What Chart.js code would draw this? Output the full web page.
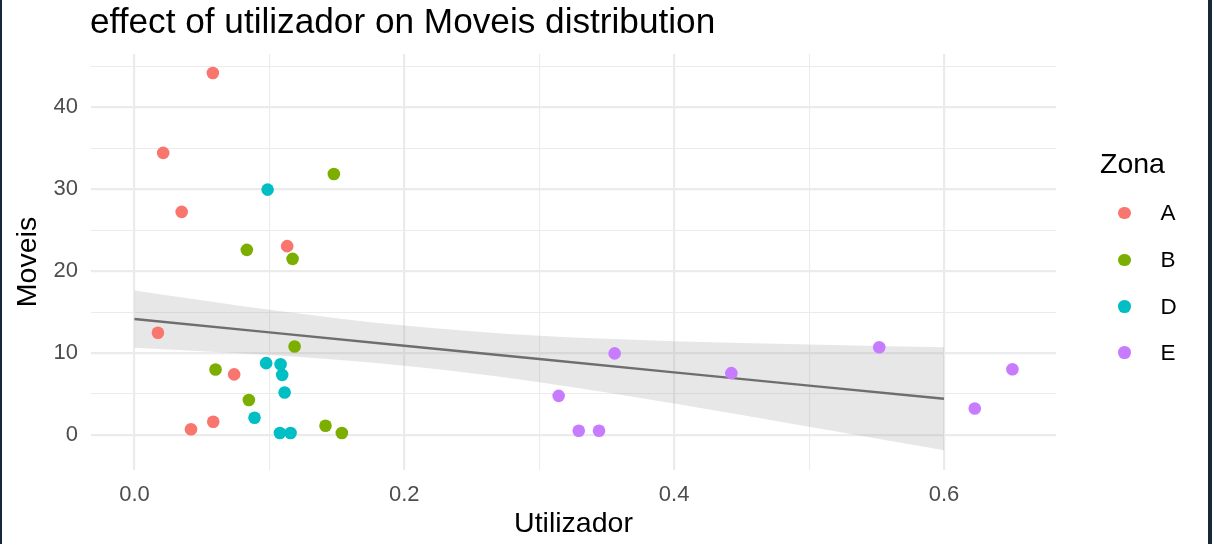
<!DOCTYPE html>
<html>
<head>
<meta charset="utf-8">
<script src="https://cdn.jsdelivr.net/npm/chart.js@4"></script>
<style>
  html, body { margin: 0; padding: 0; }
  body { width: 1212px; height: 544px; background: #16283a; position: relative; overflow: hidden; font-family: "Liberation Sans", Arial, sans-serif; }
  #sheet { position: absolute; left: 2px; top: 0; width: 1206px; height: 544px; background: #fff; }
  #wrap { position: absolute; left: 0; top: 0; width: 1212px; height: 544px; }
  #title { position: absolute; left: 90px; top: 3px; font-size: 35.2px; line-height: 35.2px; color: #000; white-space: nowrap; }
  #legendTitle { position: absolute; left: 1100px; top: 149px; font-size: 28.5px; line-height: 28.5px; color: #000; }
  .item { position: absolute; left: 1118px; height: 24px; display: flex; align-items: center; font-size: 22.5px; color: #000; }
  .dot { width: 12.6px; height: 12.6px; border-radius: 50%; margin-right: 30px; }
</style>
</head>
<body>
<div id="sheet"></div>
<div id="wrap"><canvas id="chart" width="1212" height="544"></canvas></div>
<div id="title">effect of utilizador on Moveis distribution</div>
<div id="legendTitle">Zona</div>
<div id="legend"></div>
<script>
// zones and their colours (ggplot default hues)
const zones = ['A', 'B', 'D', 'E'];
const zoneColors = ['#F8766D', '#7CAE00', '#00BFC4', '#C77CFF'];

// points, per zona
const utilA = [0.0581, 0.0213, 0.0350, 0.1132, 0.0174, 0.0739, 0.0419, 0.0584];
const moveisA = [44.18, 34.43, 27.23, 23.05, 12.48, 7.40, 0.70, 1.62];
const utilB = [0.1478, 0.0833, 0.1172, 0.1187, 0.0601, 0.0848, 0.1416, 0.1537];
const moveisB = [31.86, 22.6, 21.5, 10.8, 8.0, 4.27, 1.13, 0.24];
const utilD = [0.0987, 0.0976, 0.1083, 0.1095, 0.1113, 0.0890, 0.1078, 0.1157];
const moveisD = [29.95, 8.77, 8.64, 7.34, 5.19, 2.10, 0.24, 0.24];
const utilE = [0.3559, 0.3144, 0.3293, 0.3443, 0.4424, 0.5520, 0.6507, 0.6228];
const moveisE = [9.96, 4.78, 0.52, 0.52, 7.55, 10.71, 8.03, 3.24];

// smooth (lm) line and its band, read at a few x positions
const fitX = [0, 0.1, 0.2, 0.3, 0.4, 0.5, 0.6];
const fitY = [14.16, 12.53, 10.9, 9.28, 7.65, 6.03, 4.42];
const bandUpper = [17.65, 15.3, 13.35, 12.1, 11.45, 11.05, 10.7];
const bandLower = [10.65, 9.75, 8.45, 6.45, 3.85, 1.0, -1.87];

const xMajor = [0, 0.2, 0.4, 0.6];
const xMinor = [0.1, 0.3, 0.5];
const yMajor = [0, 10, 20, 30, 40];
const yMinor = [5, 15, 25, 35, 45];

const pointSets = [[utilA, moveisA], [utilB, moveisB], [utilD, moveisD], [utilE, moveisE]];
const toXY = (xs, ys) => xs.map((x, i) => ({ x: x, y: ys[i] }));

const datasets = pointSets.map((s, i) => ({
  label: zones[i],
  data: toXY(s[0], s[1]),
  showLine: false,
  pointRadius: 6.3,
  pointBorderWidth: 0,
  pointBackgroundColor: zoneColors[i],
  order: 0
}));
datasets.push({
  label: 'fit',
  data: toXY(fitX, fitY),
  borderColor: '#6e6e6e',
  borderWidth: 2.4,
  pointRadius: 0,
  fill: false,
  order: 1
});
datasets.push({
  label: 'upper',
  data: toXY(fitX, bandUpper),
  borderWidth: 0,
  pointRadius: 0,
  cubicInterpolationMode: 'monotone',
  backgroundColor: 'rgba(170,170,170,0.28)',
  fill: '+1',
  order: 2
});
datasets.push({
  label: 'lower',
  data: toXY(fitX, bandLower),
  borderWidth: 0,
  pointRadius: 0,
  cubicInterpolationMode: 'monotone',
  fill: false,
  order: 3
});

const tickFont = { family: '"Liberation Sans", Arial, sans-serif', size: 22 };
const titleFont = { family: '"Liberation Sans", Arial, sans-serif', size: 28.5 };

new Chart(document.getElementById('chart'), {
  type: 'line',
  data: { datasets: datasets },
  options: {
    responsive: false,
    animation: false,
    layout: { padding: { left: 0, right: 156, top: 54, bottom: 0 } },
    plugins: { legend: { display: false }, tooltip: { enabled: false } },
    scales: {
      x: {
        type: 'linear',
        min: -0.0322,
        max: 0.683,
        afterFit: s => { s.height = 74; },
        afterBuildTicks: s => { s.ticks = xMajor.concat(xMinor).map(v => ({ value: v })); },
        border: { display: false },
        grid: {
          drawTicks: false,
          color: '#ebebeb',
          lineWidth: c => xMajor.includes(c.tick.value) ? 2.2 : 1.1
        },
        ticks: {
          padding: 12,
          color: '#4d4d4d',
          font: tickFont,
          maxRotation: 0,
          autoSkip: false,
          callback: v => xMajor.includes(v) ? v.toFixed(1) : ''
        },
        title: { display: true, text: 'Utilizador', color: '#000', font: titleFont, padding: { top: 0, bottom: 3 } }
      },
      y: {
        min: -4.27,
        max: 46.5,
        afterFit: s => { s.width = 91; },
        afterBuildTicks: s => { s.ticks = yMajor.concat(yMinor).map(v => ({ value: v })); },
        border: { display: false },
        grid: {
          drawTicks: false,
          color: '#ebebeb',
          lineWidth: c => yMajor.includes(c.tick.value) ? 2.2 : 1.1
        },
        ticks: {
          padding: 13,
          color: '#4d4d4d',
          font: tickFont,
          autoSkip: false,
          callback: v => yMajor.includes(v) ? String(v) : ''
        },
        title: { display: true, text: 'Moveis', color: '#000', font: titleFont, padding: { top: 11, bottom: 0 } }
      }
    }
  }
});

// legend built from the zone arrays
const legendYs = [213, 260, 306.5, 352.5];
const legend = document.getElementById('legend');
zones.forEach((z, i) => {
  const row = document.createElement('div');
  row.className = 'item';
  row.style.top = (legendYs[i] - 12) + 'px';
  row.innerHTML = '<span class="dot" style="background:' + zoneColors[i] + '"></span><span>' + z + '</span>';
  legend.appendChild(row);
});
</script>
</body>
</html>
